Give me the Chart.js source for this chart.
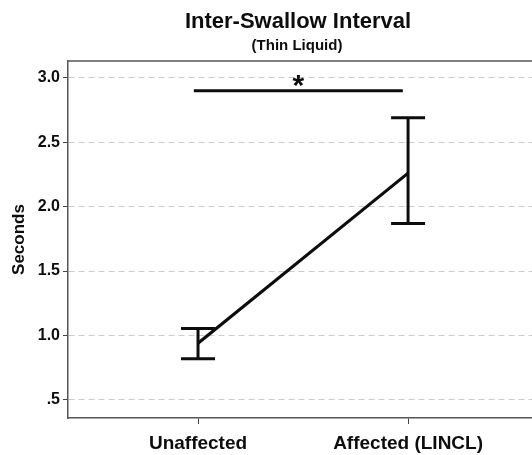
<!DOCTYPE html>
<html>
<head>
<meta charset="utf-8">
<script src="https://cdn.jsdelivr.net/npm/chart.js@4.4.0/dist/chart.umd.min.js"></script>
<style>
  html, body { margin: 0; padding: 0; background: #fff; overflow: hidden; }
  #wrap { width: 532px; height: 455px; }
</style>
</head>
<body>
<div id="wrap"><canvas id="chart"></canvas></div>
<script>
// data
const categories = ["Unaffected", "Affected (LINCL)"];
const means = [0.94, 2.26];
const upper = [1.055, 2.69];
const lower = [0.82, 1.87];
const yTicks = [0.5, 1.0, 1.5, 2.0, 2.5, 3.0];
const yTickLabels = [".5", "1.0", "1.5", "2.0", "2.5", "3.0"];
const sigLevel = 2.9;
const sigSpan = [-0.02, 0.975];

const FONT = "'Liberation Sans', Arial, sans-serif";
const INK = "#0d0d0d";

// error bars, significance bar, frame and titles
const extras = {
  id: "extras",
  afterDatasetsDraw(chart) {
    const { ctx, chartArea, scales } = chart;
    const x = scales.x, y = scales.y;
    ctx.save();
    ctx.strokeStyle = INK;
    ctx.lineWidth = 3;
    ctx.lineCap = "butt";
    means.forEach((m, i) => {
      const px = x.getPixelForValue(i);
      const top = y.getPixelForValue(upper[i]);
      const bot = y.getPixelForValue(lower[i]);
      ctx.beginPath();
      ctx.moveTo(px, top); ctx.lineTo(px, bot);
      ctx.moveTo(px - 17, top); ctx.lineTo(px + 17, top);
      ctx.moveTo(px - 17, bot); ctx.lineTo(px + 17, bot);
      ctx.stroke();
    });

    // significance line + star
    const sy = y.getPixelForValue(sigLevel);
    ctx.beginPath();
    ctx.moveTo(x.getPixelForValue(sigSpan[0]), sy);
    ctx.lineTo(x.getPixelForValue(sigSpan[1]), sy);
    ctx.stroke();
    ctx.fillStyle = INK;
    ctx.font = "bold 30px " + FONT;
    ctx.textAlign = "center";
    ctx.textBaseline = "middle";
    ctx.fillText("*", (x.getPixelForValue(sigSpan[0]) + x.getPixelForValue(sigSpan[1])) / 2, sy - 4);

    // top frame line
    ctx.strokeStyle = "#555";
    ctx.lineWidth = 1.5;
    ctx.beginPath();
    ctx.moveTo(chartArea.left, chartArea.top);
    ctx.lineTo(chartArea.right, chartArea.top);
    ctx.stroke();

    // titles
    ctx.fillStyle = INK;
    ctx.font = "bold 22px " + FONT;
    ctx.fillText("Inter-Swallow Interval", 298, 22);
    ctx.font = "bold 15px " + FONT;
    ctx.fillText("(Thin Liquid)", 297, 46);
    ctx.restore();
  }
};

new Chart(document.getElementById("chart"), {
  type: "line",
  data: {
    datasets: [
      {
        data: means.map((m, i) => ({ x: i, y: m })),
        borderColor: INK,
        borderWidth: 3.2,
        pointRadius: 0,
        tension: 0,
      },
    ],
  },
  options: {
    responsive: true,
    maintainAspectRatio: false,
    animation: false,
    layout: { padding: { top: 61, right: 0, left: 0, bottom: 0 } },
    plugins: {
      legend: { display: false },
      tooltip: { enabled: false },
    },
    scales: {
      x: {
        type: "linear",
        min: -0.619,
        max: 1.59,
        afterBuildTicks: (s) => { s.ticks = categories.map((c, i) => ({ value: i })); },
        afterFit: (s) => { s.height = 37; },
        ticks: {
          callback: (v) => categories[v],
          color: INK,
          font: { family: FONT, size: 19, weight: "bold" },
          padding: 8,
          maxRotation: 0,
        },
        grid: {
          drawOnChartArea: false,
          drawTicks: true,
          tickLength: 6,
          tickColor: "#444",
        },
        border: { color: "#555", width: 1.5 },
      },
      y: {
        min: 0.36,
        max: 3.13,
        afterBuildTicks: (s) => { s.ticks = yTicks.map((v) => ({ value: v })); },
        afterFit: (s) => { s.width = 68; },
        ticks: {
          callback: (v) => yTickLabels[yTicks.indexOf(v)],
          color: INK,
          font: { family: FONT, size: 16, weight: "bold" },
          padding: 3,
        },
        grid: {
          color: "#cccccc",
          tickBorderDash: [],
          tickColor: "#444",
          tickLength: 5,
          lineWidth: 1,
        },
        border: { color: "#555", width: 1.5, dash: [6, 4] },
        title: {
          display: true,
          text: "Seconds",
          color: INK,
          font: { family: FONT, size: 17, weight: "bold" },
          padding: { top: 9, bottom: 0 },
        },
      },
    },
  },
  plugins: [extras],
});
</script>
</body>
</html>
